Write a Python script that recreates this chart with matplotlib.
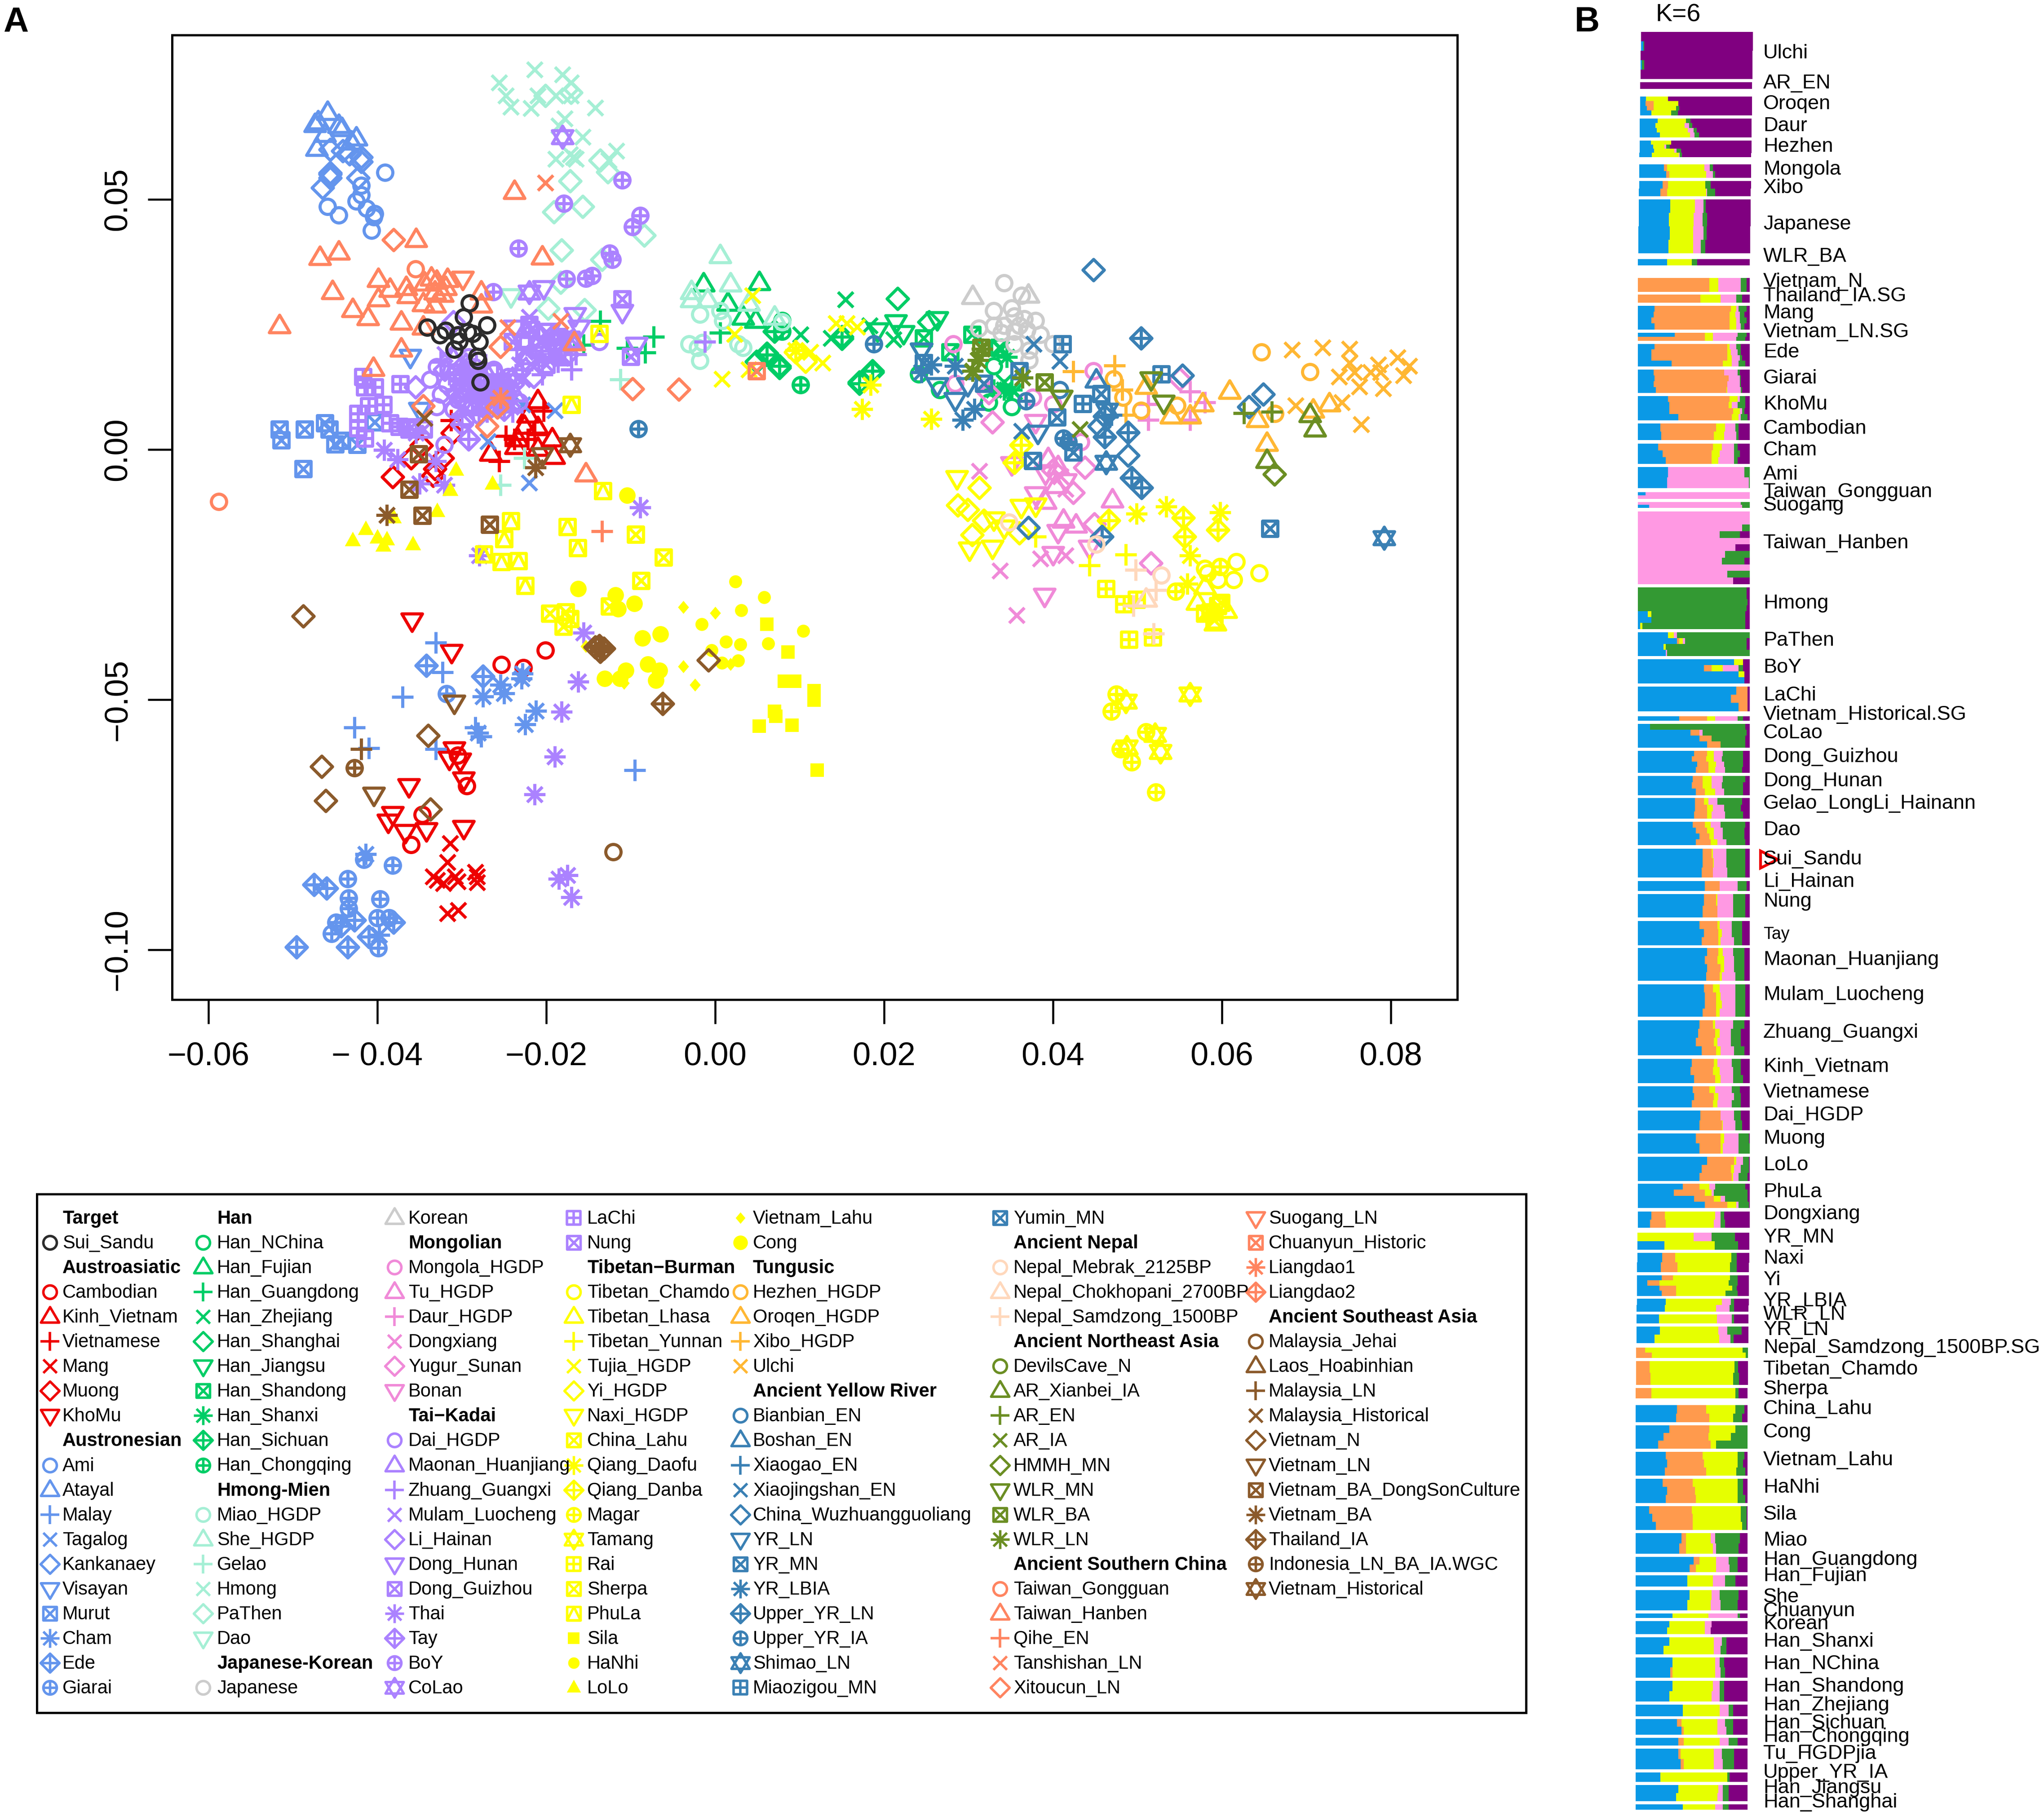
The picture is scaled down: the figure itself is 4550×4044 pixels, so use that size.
import numpy as np
import matplotlib
matplotlib.use("Agg")
import matplotlib.pyplot as plt
from matplotlib.path import Path
from matplotlib.patches import Rectangle

plt.rcParams['font.family'] = ['Liberation Sans', 'DejaVu Sans']

# ---------- panel A, PC1 / PC2
sui_sandu = [(-.0291,.0293),(-.0298,.0265),(-.0270,.0249),(-.0341,.0244),(-.0319,.0238),(-.0326,.0229),(-.0305,.0229),(-.0293,.0235),(-.0287,.0232),(-.0303,.0216),(-.0279,.0215),(-.0309,.0200),(-.0282,.0186),(-.0281,.0178),(-.0278,.0135)]
cambodian = [(-.0201,-.0401),(-.0253,-.0430),(-.0227,-.0436),(-.0305,-.0611),(-.0294,-.0672),(-.0347,-.0730),(-.0360,-.0790)]
kinh = [(-.0210,.0097),(-.0222,.0068),(-.0226,.0046),(-.0210,.0043),(-.0193,.0021),(-.0191,-.0014),(-.0234,.0021),(-.0236,.0005),(-.0266,-.0008),(-.0210,.0002)]
vietnamese = [(-.0248,.0027),(-.0256,-.0023),(-.0238,.0021),(-.0222,.0021),(-.0203,.0077),(-.0214,.0033),(-.0313,.0058)]
mang = [(-.0314,-.0787),(-.0317,-.0825),(-.0334,-.0854),(-.0329,-.0861),(-.0322,-.0867),(-.0308,-.0854),(-.0305,-.0864),(-.0284,-.0845),(-.0282,-.0854),(-.0282,-.0865),(-.0317,-.0927),(-.0304,-.0921)]
muong = [(-.0382,-.0055),(-.0311,.0033),(-.0334,-.0052),(-.0348,.0008),(-.0360,-.0017),(-.0323,-.0017),(-.0332,-.0039)]
khomu = [(-.0359,-.0341),(-.0312,-.0404),(-.0309,-.0599),(-.0315,-.0618),(-.0302,-.0621),(-.0298,-.0659),(-.0363,-.0672),(-.0382,-.0728),(-.0387,-.0743),(-.0367,-.0764),(-.0342,-.0760),(-.0298,-.0756)]
ami = [(-.0391,.0554),(-.0419,.0528),(-.0419,.0509),(-.0425,.0496),(-.0459,.0486),(-.0446,.0469),(-.0413,.0482),(-.0403,.0471),(-.0404,.0465),(-.0407,.0438)]
atayal = [(-.0459,.0673),(-.0470,.0654),(-.0474,.0649),(-.0446,.0647),(-.0425,.0622),(-.0462,.0629),(-.0472,.0601),(-.0431,.0614),(-.0442,.0641)]
malay = [(-.0331,-.0386),(-.0323,-.0445),(-.0370,-.0495),(-.0427,-.0556),(-.0410,-.0597),(-.0331,-.0599),(-.0284,-.0556),(-.0277,-.0574),(-.0095,-.0641)]
tagalog = [(-.0228,.0090),(-.0190,.0078),(-.0269,.0016),(-.0220,-.0066)]
kankanaey = [(-.0456,.0600),(-.0441,.0597),(-.0433,.0591),(-.0419,.0584),(-.0419,.0575),(-.0456,.0553),(-.0456,.0550),(-.0456,.0543),(-.0465,.0523),(-.0423,.0543)]
visayan = [(-.0361,.0186),(-.0350,.0080)]
murut = [(-.0516,.0040),(-.0514,.0019),(-.0486,.0040),(-.0462,.0053),(-.0457,.0040),(-.0450,.0011),(-.0443,.0018),(-.0424,.0010),(-.0403,.0055),(-.0488,-.0039)]
cham = [(-.0228,-.0448),(-.0229,-.0458),(-.0254,-.0470),(-.0250,-.0487),(-.0275,-.0494),(-.0212,-.0522),(-.0225,-.0549),(-.0281,-.0566),(-.0414,-.0809),(-.0398,-.0970)]
ede = [(-.0342,-.0432),(-.0275,-.0453),(-.0475,-.0870),(-.0460,-.0877),(-.0427,-.0941),(-.0381,-.0945),(-.0410,-.0974),(-.0435,-.0995),(-.0496,-.0995),(-.0443,-.0952)]
giarai = [(-.0318,-.0488),(-.0416,-.0820),(-.0382,-.0831),(-.0435,-.0858),(-.0434,-.0897),(-.0397,-.0899),(-.0434,-.0917),(-.0400,-.0936),(-.0449,-.0945),(-.0454,-.0968),(-.0399,-.0996),(-.0386,-.0936)]
han_nchina = [(.0241,.0151),(.0266,.0119),(.0324,.0094),(.0351,.0085),(.0079,.0258),(.0330,.0167)]
han_fujian = [(-.0014,.0330),(.0052,.0333),(.0015,.0292),(.0033,.0264),(.0048,.0258)]
han_guangdong = [(-.0136,.0257),(-.0073,.0225),(-.0104,.0203),(-.0083,.0194),(-.0156,.0209),(.0006,.0233)]
han_zhejiang = [(.0154,.0300),(.0101,.0230),(.0137,.0223),(.0211,.0220),(.0183,.0248),(.0339,.0201),(.0354,.0116),(.0342,.0135)]
han_shanghai = [(.0216,.0302),(.0253,.0255),(.0150,.0222),(.0061,.0192),(.0049,.0176),(.0076,.0163),(.0171,.0135),(.0186,.0154)]
han_jiangsu = [(.0214,.0255),(.0263,.0261),(.0192,.0239),(.0223,.0233),(.0244,.0198)]
han_shandong = [(.0247,.0223),(.0304,.0230),(.0278,.0195),(.0336,.0204)]
han_shanxi = [(.0345,.0185),(.0342,.0119),(.0351,.0119),(.0330,.0119)]
han_sichuan = [(.0061,.0189),(.0076,.0167),(.0186,.0157),(.0171,.0132),(.0150,.0225),(.0070,.0236)]
han_chongqing = [(.0101,.0129),(.0079,.0236)]
miao = [(-.0018,.0270),(.0006,.0277),(.0009,.0258),(.0079,.0255),(-.0031,.0211),(-.0015,.0214),(.0027,.0211),(.0033,.0204),(-.0018,.0178),(-.0021,.0204)]
she = [(.0006,.0387),(-.0028,.0315),(.0018,.0330),(-.0028,.0299),(-.0009,.0299),(.0040,.0292),(.0070,.0264)]
gelao = [(-.0112,.0140),(-.0254,-.0071),(-.0226,-.0017)]
hmong = [(-.0214,.0759),(-.0181,.0750),(-.0256,.0733),(-.0171,.0733),(-.0248,.0707),(-.0210,.0707),(-.0189,.0707),(-.0171,.0707),(-.0242,.0685),(-.0218,.0682),(-.0142,.0683),(-.0178,.0662),(-.0185,.0647),(-.0157,.0625),(-.0189,.0581),(-.0165,.0581),(-.0117,.0597),(-.0126,.0578),(-.0172,.0590),(-.0168,.0584)]
pathen = [(-.0201,.0707),(-.0171,.0714),(-.0136,.0578),(-.0127,.0555),(-.0172,.0537),(-.0191,.0475),(-.0157,.0486),(-.0084,.0428),(-.0182,.0399),(-.0134,.0380),(-.0183,.0334),(-.0198,.0282),(-.0155,.0279)]
dao = [(-.0242,.0307)]
japanese = [(.0342,.0333),(.0330,.0277),(.0351,.0283),(.0363,.0308),(.0330,.0248),(.0342,.0248),(.0354,.0267),(.0366,.0261),(.0379,.0258),(.0339,.0233),(.0354,.0236),(.0369,.0239),(.0385,.0230),(.0312,.0242),(.0354,.0211),(.0400,.0211),(.0372,.0179),(.0372,.0198),(.0360,.0248)]
korean = [(.0305,.0305),(.0371,.0308)]
mongola = [(.0448,.0157),(.0376,.0104),(.0400,.0091),(.0282,.0211),(.0284,.0132),(.0433,.0015)]
tu = [(.0394,-.0019),(.0406,-.0035),(.0403,-.0073),(.0391,-.0104),(.0412,-.0142),(.0427,-.0152),(.0470,-.0101)]
daur = [(.0562,.0116),(.0513,.0091),(.0513,.0059),(.0580,.0094),(.0562,.0059)]
dongxiang = [(.0313,-.0043),(.0385,-.0218),(.0415,-.0212),(.0337,-.0242),(.0357,-.0331),(.0409,-.0054),(.0415,-.0079)]
yugur = [(.0328,.0055),(.0438,-.0036),(.0424,-.0086),(.0516,-.0227),(.0449,-.0149),(.0324,.0113),(.0550,.0141),(.0400,-.0041)]
bonan = [(.0379,.0056),(.0351,-.0029),(.0391,-.0048),(.0379,-.0089),(.0406,-.0164),(.0400,-.0208),(.0443,-.0196),(.0390,-.0292),(.0415,-.0063)]
dai = [(-.0330,.0165),(-.0318,.0130),(-.0305,.0100),(-.0295,.0135),(-.0285,.0165),(-.0275,.0095),(-.0265,.0135),(-.0255,.0105),(-.0245,.0145),(-.0310,.0080),(-.0325,.0110),(-.0330,.0085),(-.0295,.0060),(-.0137,.0215),(-.0321,.0010),(-.0308,.0155),(-.0292,.0185),(-.0278,.0140),(-.0262,.0160),(-.0248,.0120),(-.0300,.0118),(-.0288,.0092),(-.0270,.0078),(-.0232,.0095),(-.0338,.0140)]
maonan = [(-.0310,.0180),(-.0300,.0150),(-.0290,.0130),(-.0280,.0115),(-.0270,.0150),(-.0260,.0100),(-.0250,.0130),(-.0225,.0215),(-.0210,.0210),(-.0200,.0195),(-.0190,.0225),(-.0180,.0210),(-.0170,.0215),(-.0300,.0110),(-.0285,.0085),(-.0295,.0170),(-.0275,.0130),(-.0258,.0118),(-.0238,.0110),(-.0222,.0185)]
zhuang = [(-.0325,.0175),(-.0315,.0150),(-.0307,.0120),(-.0295,.0160),(-.0288,.0100),(-.0280,.0135),(-.0272,.0170),(-.0265,.0115),(-.0258,.0150),(-.0250,.0085),(-.0243,.0125),(-.0235,.0200),(-.0228,.0160),(-.0220,.0225),(-.0212,.0190),(-.0205,.0150),(-.0195,.0215),(-.0186,.0175),(-.0178,.0200),(-.0170,.0160),(-.0165,.0190),(-.0300,.0070),(-.0270,.0075),(-.0240,.0075),(-.0012,.0215),(-.0302,.0140),(-.0284,.0120),(-.0268,.0105),(-.0252,.0138),(-.0236,.0150),(-.0218,.0205)]
mulam = [(-.0320,.0190),(-.0312,.0165),(-.0305,.0140),(-.0298,.0175),(-.0290,.0120),(-.0284,.0150),(-.0276,.0105),(-.0268,.0135),(-.0262,.0090),(-.0255,.0120),(-.0248,.0150),(-.0240,.0100),(-.0232,.0170),(-.0225,.0195),(-.0215,.0165),(-.0208,.0215),(-.0198,.0180),(-.0190,.0205),(-.0312,.0100),(-.0300,.0085),(-.0220,.0265),(-.0295,.0105),(-.0280,.0085),(-.0274,.0155),(-.0258,.0130),(-.0242,.0085),(-.0228,.0140)]
li_hainan = [(-.0320,.0160),(-.0300,.0125),(-.0285,.0105),(-.0270,.0125),(-.0255,.0095),(-.0240,.0130),(-.0225,.0180),(-.0205,.0195),(-.0190,.0215),(-.0175,.0190),(-.0215,.0145),(-.0310,.0255),(-.0355,.0125)]
dong_hunan = [(-.0203,.0323),(-.0166,.0269),(-.0161,.0244),(-.0110,.0276),(-.0093,.0210),(-.0238,.0244),(-.0197,.0238),(-.0177,.0222)]
dong_guizhou = [(-.0240,.0215),(-.0218,.0240),(-.0200,.0235),(-.0185,.0225),(-.0170,.0220),(-.0180,.0185),(-.0200,.0170),(-.0290,.0155),(-.0275,.0110),(-.0260,.0130),(-.0250,.0105),(-.0360,.0045),(-.0345,.0040)]
thai = [(-.0392,-.0001),(-.0376,-.0020),(-.0331,-.0023),(-.0350,-.0068),(-.0321,-.0071),(-.0089,-.0116),(-.0354,.0033),(-.0279,-.0212),(-.0156,-.0366),(-.0162,-.0464),(-.0182,-.0524),(-.0190,-.0614),(-.0214,-.0689),(-.0185,-.0858),(-.0175,-.0851),(-.0170,-.0895)]
tay = [(-.0292,.0021),(-.0300,.0050),(-.0250,.0080),(-.0280,.0070)]
boy = [(-.0110,.0539),(-.0179,.0492),(-.0089,.0468),(-.0098,.0445),(-.0233,.0402),(-.0125,.0392),(-.0122,.0380),(-.0176,.0341),(-.0146,.0347),(-.0153,.0342),(-.0263,.0315)]
colao = [(-.0181,.0625),(-.0220,.0314)]
lachi = [(-.0417,.0145),(-.0403,.0125),(-.0415,.0125),(-.0373,.0131),(-.0393,.0090),(-.0410,.0087),(-.0423,.0072),(-.0423,.0043),(-.0415,.0022),(-.0385,.0053),(-.0374,.0046),(-.0362,.0040)]
nung = [(-.0110,.0301),(-.0100,.0186),(-.0220,.0250)]
chamdo = [(.0580,-.0238),(.0598,-.0234),(.0617,-.0224),(.0644,-.0247),(.0614,-.0260),(.0595,-.0260),(.0583,-.0247)]
lhasa = [(.0571,-.0306),(.0592,-.0347),(.0605,-.0322),(.0580,-.0275)]
tibetan_yunnan = [(.0486,-.0210),(.0443,-.0232),(.0379,-.0174)]
tujia = [(.0044,.0308),(.0023,.0231),(.0008,.0141),(.0040,.0160),(.0143,.0252),(.0156,.0252),(.0168,.0245),(.0113,.0195),(.0127,.0173)]
yi = [(.0095,.0195),(.0107,.0176),(.0313,-.0076),(.0287,-.0111),(.0299,-.0120),(.0318,-.0142),(.0304,-.0171),(.0360,-.0167)]
naxi = [(.0286,-.0057),(.0362,-.0114),(.0379,-.0111),(.0330,-.0139),(.0301,-.0199),(.0328,-.0196),(.0342,-.0155)]
china_lahu = [(-.0094,-.0170),(-.0061,-.0215),(-.0088,-.0262),(-.0196,-.0328),(-.0177,-.0325),(-.0172,-.0338),(-.0180,-.0354),(-.0125,-.0313)]
daofu = [(.0184,.0129),(.0174,.0081),(.0256,.0061),(.0095,.0198),(.0499,-.0128),(.0534,-.0114),(.0598,-.0126),(.0562,-.0212),(.0559,-.0268)]
danba = [(.0362,.0009),(.0354,-.0026),(.0466,-.0142),(.0554,-.0136),(.0556,-.0174),(.0595,-.0161)]
magar = [(.0545,-.0284),(.0598,-.0234),(.0475,-.0489),(.0469,-.0523),(.0480,-.0599),(.0493,-.0625),(.0522,-.0685),(.0510,-.0565)]
tamang = [(.0486,-.0504),(.0562,-.0489),(.0527,-.0604),(.0521,-.0570),(.0487,-.0595)]
rai = [(.0463,-.0278),(.0484,-.0309),(.0499,-.0300),(.0490,-.0380),(.0518,-.0375)]
sherpa = [(.0586,-.0325),(.0595,-.0312),(.0580,-.0328),(.0599,-.0306),(.0591,-.0341)]
phula = [(-.0242,-.0143),(-.0250,-.0179),(-.0274,-.0209),(-.0253,-.0224),(-.0233,-.0223),(-.0225,-.0272),(-.0175,-.0154),(-.0163,-.0197),(-.0170,.0090),(-.0133,-.0083),(-.0137,.0232)]
sila = [(.0061,-.0349),(.0086,-.0405),(.0082,-.0463),(.0094,-.0463),(.0117,-.0482),(.0117,-.0501),(.0070,-.0523),(.0072,-.0533),(.0052,-.0553),(.0091,-.0551),(.0121,-.0641)]
hanhi = [(.0024,-.0264),(.0058,-.0295),(.0031,-.0321),(-.0016,-.0349),(.0013,-.0384),(.0030,-.0390),(.0063,-.0388),(.0027,-.0422),(.0008,-.0426),(-.0004,-.0401),(.0104,-.0363)]
lolo = [(-.0429,-.0182),(-.0414,-.0160),(-.0400,-.0177),(-.0389,-.0180),(-.0393,-.0193),(-.0358,-.0190),(-.0329,-.0124),(-.0381,-.0136),(-.0307,-.0041),(-.0314,-.0082),(-.0264,-.0069)]
vietnam_lahu = [(-.0038,-.0315),(.0000,-.0327),(-.0038,-.0434),(-.0024,-.0470),(.0018,-.0429),(-.0108,-.0467),(-.0153,-.0393)]
cong = [(-.0162,-.0278),(-.0118,-.0291),(-.0115,-.0319),(-.0096,-.0308),(-.0086,-.0377),(-.0065,-.0369),(-.0131,-.0458),(-.0113,-.0458),(-.0106,-.0442),(-.0080,-.0429),(-.0066,-.0442),(-.0070,-.0461),(-.0104,-.0092)]
hezhen = [(.0647,.0195),(.0704,.0155),(.0472,.0141),(.0483,.0104),(.0504,.0078),(.0547,.0088),(.0663,.0072)]
oroqen = [(.0609,.0116),(.0510,.0126),(.0577,.0091),(.0540,.0066),(.0562,.0066),(.0642,.0059),(.0708,.0078),(.0727,.0091),(.0653,.0012)]
xibo = [(.0424,.0156),(.0473,.0168),(.0482,.0119),(.0486,.0069)]
ulchi = [(.0683,.0199),(.0719,.0204),(.0751,.0201),(.0808,.0184),(.0822,.0167),(.0751,.0173),(.0739,.0145),(.0757,.0154),(.0785,.0170),(.0776,.0154),(.0788,.0154),(.0815,.0148),(.0763,.0126),(.0791,.0122),(.0687,.0088),(.0742,.0094),(.0765,.0050)]
bianbian = [(.0408,.0119)]
boshan = [(.0451,.0138)]
xiaogao = [(.0469,.0069)]
xiaojingshan = [(.0377,.0211),(.0408,.0177),(.0363,.0037)]
wuzhuang = [(.0448,.0359),(.0489,-.0012),(.0371,-.0156),(.0553,.0148),(.0649,.0110),(.0632,.0085),(.0455,.0047)]
yr_ln = [(.0284,.0100),(.0382,.0034),(.0244,.0198),(.0263,.0129),(.0299,.0129)]
yr_mn = [(.0247,.0173),(.0405,.0065),(.0376,-.0022),(.0424,-.0005),(.0457,.0111),(.0318,.0132),(.0360,.0157)]
yr_lbia = [(.0244,.0154),(.0256,.0170),(.0284,.0167),(.0293,.0059),(.0307,.0081)]
upper_yr_ln = [(.0504,.0223),(.0489,.0034),(.0461,.0025),(.0493,-.0057),(.0505,-.0076),(.0458,-.0174),(.0461,.0066)]
upper_yr_ia = [(.0188,.0211),(.0368,.0097),(.0412,.0022),(.0418,.0015),(-.0091,.0041)]
shimao = [(.0463,-.0026),(.0464,.0078),(.0792,-.0177)]
miaozigou = [(.0411,.0211),(.0435,.0092),(.0528,.0151)]
yumin = [(.0657,-.0158)]
mebrak = [(.0348,-.0145),(.0451,-.0189),(.0528,-.0251)]
chokhopani = [(.0510,-.0300)]
samdzong = [(.0498,-.0241),(.0522,-.0281),(.0495,-.0312),(.0519,-.0368)]
xianbei = [(.0704,.0069),(.0710,.0040),(.0653,-.0022)]
ar_en = [(.0626,.0073),(.0659,.0075)]
ar_ia = [(.0305,.0154),(.0432,.0040)]
hmmh = [(.0662,-.0049)]
wlr_mn = [(.0516,.0141),(.0410,.0104),(.0531,.0094)]
wlr_ba = [(.0390,.0135),(.0315,.0204)]
wlr_ln = [(.0316,.0201),(.0305,.0157),(.0364,.0144),(.0311,.0179)]
gongguan = [(-.0355,.0361),(-.0588,-.0104)]
hanben = [(-.0354,.0419),(-.0446,.0394),(-.0468,.0383),(-.0399,.0339),(-.0385,.0320),(-.0453,.0315),(-.0399,.0301),(-.0366,.0323),(-.0364,.0307),(-.0336,.0342),(-.0344,.0332),(-.0330,.0336),(-.0317,.0339),(-.0319,.0323),(-.0332,.0314),(-.0323,.0310),(-.0346,.0291),(-.0332,.0288),(-.0277,.0314),(-.0277,.0288),(-.0429,.0279),(-.0411,.0263),(-.0372,.0254),(-.0516,.0247),(-.0346,.0244),(-.0372,.0200),(-.0405,.0162),(-.0238,.0515),(-.0205,.0384),(-.0167,.0213),(-.0153,-.0049)]
qihe = [(-.0134,-.0163)]
tanshishan = [(-.0201,.0533),(-.0183,.0257),(-.0246,.0244)]
xitoucun = [(-.0381,.0419),(-.0254,.0206),(-.0258,.0084),(-.0270,.0047),(-.0098,.0121),(-.0043,.0120),(-.0346,.0087)]
suogang = [(-.0299,.0342)]
chuanyun = [(.0049,.0157)]
liangdao1 = [(-.0254,.0103)]
jehai = [(-.0121,-.0804)]
malaysia_ln = [(-.0419,-.0599)]
malaysia_hist = [(-.0344,.0063)]
vietnam_n = [(-.0488,-.0333),(-.0340,-.0572),(-.0466,-.0634),(-.0461,-.0702),(-.0337,-.0719),(-.0008,-.0421)]
vietnam_ln = [(-.0205,-.0011),(-.0309,-.0505),(-.0404,-.0689)]
dongson = [(-.0351,-.0009),(-.0362,-.0080),(-.0347,-.0132),(-.0267,-.0150)]
vietnam_ba = [(-.0389,-.0131),(-.0213,-.0036)]
thailand_ia = [(-.0062,-.0508),(-.0142,-.0395),(-.0137,-.0392),(-.0132,-.0398),(-.0136,-.0404)]
indonesia = [(-.0427,-.0636)]
vietnam_hist = [(-.0172,.0009)]

# group, colour, members in legend order
families = [
    ("Target", "#2b2b2b", ["Sui_Sandu"]),
    ("Austroasiatic", "#ee0000", ["Cambodian", "Kinh_Vietnam", "Vietnamese", "Mang", "Muong", "KhoMu"]),
    ("Austronesian", "#6495ed", ["Ami", "Atayal", "Malay", "Tagalog", "Kankanaey", "Visayan", "Murut", "Cham", "Ede", "Giarai"]),
    ("Han", "#00cd66", ["Han_NChina", "Han_Fujian", "Han_Guangdong", "Han_Zhejiang", "Han_Shanghai", "Han_Jiangsu", "Han_Shandong", "Han_Shanxi", "Han_Sichuan", "Han_Chongqing"]),
    ("Hmong-Mien", "#a5efd5", ["Miao_HGDP", "She_HGDP", "Gelao", "Hmong", "PaThen", "Dao"]),
    ("Japanese-Korean", "#cccccc", ["Japanese", "Korean"]),
    ("Mongolian", "#f08ad8", ["Mongola_HGDP", "Tu_HGDP", "Daur_HGDP", "Dongxiang", "Yugur_Sunan", "Bonan"]),
    ("Tai\u2212Kadai", "#ab82ff", ["Dai_HGDP", "Maonan_Huanjiang", "Zhuang_Guangxi", "Mulam_Luocheng", "Li_Hainan", "Dong_Hunan", "Dong_Guizhou", "Thai", "Tay", "BoY", "CoLao", "LaChi", "Nung"]),
    ("Tibetan\u2212Burman", "#ffff00", ["Tibetan_Chamdo", "Tibetan_Lhasa", "Tibetan_Yunnan", "Tujia_HGDP", "Yi_HGDP", "Naxi_HGDP", "China_Lahu", "Qiang_Daofu", "Qiang_Danba", "Magar", "Tamang", "Rai", "Sherpa", "PhuLa", "Sila", "HaNhi", "LoLo", "Vietnam_Lahu", "Cong"]),
    ("Tungusic", "#ffb733", ["Hezhen_HGDP", "Oroqen_HGDP", "Xibo_HGDP", "Ulchi"]),
    ("Ancient Yellow River", "#3a80b4", ["Bianbian_EN", "Boshan_EN", "Xiaogao_EN", "Xiaojingshan_EN", "China_Wuzhuangguoliang", "YR_LN", "YR_MN", "YR_LBIA", "Upper_YR_LN", "Upper_YR_IA", "Shimao_LN", "Miaozigou_MN", "Yumin_MN"]),
    ("Ancient Nepal", "#ffd8bc", ["Nepal_Mebrak_2125BP", "Nepal_Chokhopani_2700BP", "Nepal_Samdzong_1500BP"]),
    ("Ancient Northeast Asia", "#6b8e23", ["DevilsCave_N", "AR_Xianbei_IA", "AR_EN", "AR_IA", "HMMH_MN", "WLR_MN", "WLR_BA", "WLR_LN"]),
    ("Ancient Southern China", "#ff8460", ["Taiwan_Gongguan", "Taiwan_Hanben", "Qihe_EN", "Tanshishan_LN", "Xitoucun_LN", "Suogang_LN", "Chuanyun_Historic", "Liangdao1", "Liangdao2"]),
    ("Ancient Southeast Asia", "#8b5a2b", ["Malaysia_Jehai", "Laos_Hoabinhian", "Malaysia_LN", "Malaysia_Historical", "Vietnam_N", "Vietnam_LN", "Vietnam_BA_DongSonCulture", "Vietnam_BA", "Thailand_IA", "Indonesia_LN_BA_IA.WGC", "Vietnam_Historical"]),
]

pca = {"Sui_Sandu": sui_sandu, "Cambodian": cambodian, "Kinh_Vietnam": kinh, "Vietnamese": vietnamese, "Mang": mang, "Muong": muong, "KhoMu": khomu,
       "Ami": ami, "Atayal": atayal, "Malay": malay, "Tagalog": tagalog, "Kankanaey": kankanaey, "Visayan": visayan, "Murut": murut, "Cham": cham, "Ede": ede, "Giarai": giarai,
       "Han_NChina": han_nchina, "Han_Fujian": han_fujian, "Han_Guangdong": han_guangdong, "Han_Zhejiang": han_zhejiang, "Han_Shanghai": han_shanghai, "Han_Jiangsu": han_jiangsu, "Han_Shandong": han_shandong, "Han_Shanxi": han_shanxi, "Han_Sichuan": han_sichuan, "Han_Chongqing": han_chongqing,
       "Miao_HGDP": miao, "She_HGDP": she, "Gelao": gelao, "Hmong": hmong, "PaThen": pathen, "Dao": dao, "Japanese": japanese, "Korean": korean,
       "Mongola_HGDP": mongola, "Tu_HGDP": tu, "Daur_HGDP": daur, "Dongxiang": dongxiang, "Yugur_Sunan": yugur, "Bonan": bonan,
       "Dai_HGDP": dai, "Maonan_Huanjiang": maonan, "Zhuang_Guangxi": zhuang, "Mulam_Luocheng": mulam, "Li_Hainan": li_hainan, "Dong_Hunan": dong_hunan, "Dong_Guizhou": dong_guizhou, "Thai": thai, "Tay": tay, "BoY": boy, "CoLao": colao, "LaChi": lachi, "Nung": nung,
       "Tibetan_Chamdo": chamdo, "Tibetan_Lhasa": lhasa, "Tibetan_Yunnan": tibetan_yunnan, "Tujia_HGDP": tujia, "Yi_HGDP": yi, "Naxi_HGDP": naxi, "China_Lahu": china_lahu, "Qiang_Daofu": daofu, "Qiang_Danba": danba, "Magar": magar, "Tamang": tamang, "Rai": rai, "Sherpa": sherpa, "PhuLa": phula, "Sila": sila, "HaNhi": hanhi, "LoLo": lolo, "Vietnam_Lahu": vietnam_lahu, "Cong": cong,
       "Hezhen_HGDP": hezhen, "Oroqen_HGDP": oroqen, "Xibo_HGDP": xibo, "Ulchi": ulchi,
       "Bianbian_EN": bianbian, "Boshan_EN": boshan, "Xiaogao_EN": xiaogao, "Xiaojingshan_EN": xiaojingshan, "China_Wuzhuangguoliang": wuzhuang, "YR_LN": yr_ln, "YR_MN": yr_mn, "YR_LBIA": yr_lbia, "Upper_YR_LN": upper_yr_ln, "Upper_YR_IA": upper_yr_ia, "Shimao_LN": shimao, "Miaozigou_MN": miaozigou, "Yumin_MN": yumin,
       "Nepal_Mebrak_2125BP": mebrak, "Nepal_Chokhopani_2700BP": chokhopani, "Nepal_Samdzong_1500BP": samdzong,
       "AR_Xianbei_IA": xianbei, "AR_EN": ar_en, "AR_IA": ar_ia, "HMMH_MN": hmmh, "WLR_MN": wlr_mn, "WLR_BA": wlr_ba, "WLR_LN": wlr_ln,
       "Taiwan_Gongguan": gongguan, "Taiwan_Hanben": hanben, "Qihe_EN": qihe, "Tanshishan_LN": tanshishan, "Xitoucun_LN": xitoucun, "Suogang_LN": suogang, "Chuanyun_Historic": chuanyun, "Liangdao1": liangdao1,
       "Malaysia_Jehai": jehai, "Malaysia_LN": malaysia_ln, "Malaysia_Historical": malaysia_hist, "Vietnam_N": vietnam_n, "Vietnam_LN": vietnam_ln, "Vietnam_BA_DongSonCulture": dongson, "Vietnam_BA": vietnam_ba, "Thailand_IA": thailand_ia, "Indonesia_LN_BA_IA.WGC": indonesia, "Vietnam_Historical": vietnam_hist}

# ---------- panel B, ancestry shares per population: blue, orange, yellow, pink, green, purple
k_colors = ["#0a99e6", "#ff9a4d", "#e6ff00", "#ff99e3", "#339933", "#800080"]
q_north = [
    ("Ulchi", [[0,0,0,0,0,100],[2,0,0,0,1,97],[0,0,0,0,0,100],[1,0,0,0,2,97],[0,0,0,0,0,100]]),
    ("AR_EN", [[0,0,0,0,0,100]]),
    ("Oroqen", [[5,0,20,0,0,75],[5,7,22,0,0,66],[6,6,20,0,3,65],[10,0,18,0,6,66]]),
    ("Daur", [[16,0,25,0,4,55],[14,0,26,4,3,53],[15,0,28,5,3,49],[18,0,27,4,4,47]]),
    ("Hezhen", [[10,0,18,0,0,72],[12,0,10,2,3,73],[13,0,18,2,4,63],[11,0,24,1,2,62]]),
    ("Mongola", [[22,3,33,5,3,34],[24,3,33,6,2,32]]),
    ("Xibo", [[21,5,33,0,5,36],[19,6,35,1,7,32]]),
    ("Japanese", [[28,0,22,8,2,40],[27,0,22,8,4,39],[28,0,21,9,3,39],[27,0,22,7,4,40]]),
    ("WLR_BA", [[26,0,22,0,5,47]]),
]
q_se = [
    ("Vietnam_N", [[0,64,8,20,5,3]]),
    ("Thailand_IA.SG", [[0,56,18,14,5,7]]),
    ("Mang", [[15,68,5,2,7,3],[14,68,5,4,4,5],[12,70,6,3,6,3],[15,67,6,4,3,5]]),
    ("Vietnam_LN.SG", [[33,27,7,22,8,3],[0,60,7,21,8,4]]),
    ("Ede", [[15,65,2,6,4,8],[12,68,3,6,3,8],[12,68,4,7,2,7],[30,46,8,6,6,4]]),
    ("Giarai", [[14,63,0,12,2,9],[15,66,0,10,1,8],[14,66,0,11,1,8],[16,63,1,12,1,7]]),
    ("KhoMu", [[27,55,7,2,5,4],[28,53,3,5,7,4],[28,57,6,2,2,5],[36,48,6,2,6,2]]),
    ("Cambodian", [[20,50,8,9,3,10],[21,47,9,11,2,10]]),
    ("Cham", [[18,49,8,11,3,11],[22,44,7,13,5,9],[25,41,6,14,3,11]]),
    ("Ami", [[27,0,0,68,5,0],[26,0,0,73,1,0]]),
    ("Taiwan_Gongguan", [[7,0,0,93,0,0],[0,0,0,100,0,0]]),
    ("Suogang", [[0,0,0,92,8,0],[10,0,0,83,7,0]]),
    ("Taiwan_Hanben", [[0,0,0,100,0,0],[0,0,0,100,0,0],[0,0,0,93,7,0],[0,0,0,73,18,9],[0,0,0,100,0,0],[0,0,0,87,0,13],[0,0,0,78,22,0],[0,0,0,75,20,5],[0,0,0,100,0,0],[0,0,0,80,20,0],[0,0,0,85,0,15]]),
    ("Hmong", [[0,0,0,0,97,3],[0,0,0,0,97,3],[0,0,0,0,98,2],[0,0,0,0,97,3],[9,0,3,0,84,4],[12,0,0,0,84,4],[2,0,2,0,92,4]]),
    ("PaThen", [[27,0,5,3,65,0],[35,2,3,2,55,3],[23,0,2,0,72,3],[25,0,0,1,74,0]]),
    ("BoY", [[86,0,8,0,0,6],[59,7,10,14,4,6],[90,0,5,0,0,5],[95,0,0,0,0,5]]),
    ("LaChi", [[88,10,0,0,0,2],[83,15,0,0,0,2],[90,8,0,0,0,2]]),
    ("Vietnam_Historical.SG", [[37,25,7,20,5,6]]),
    ("CoLao", [[11,0,0,0,85,4],[47,8,0,3,39,3],[55,11,0,0,30,4],[62,12,0,0,22,4]]),
]
q_kadai = [
    ("Dong_Guizhou", [[50,12,6,8,18,6],[48,13,7,7,19,6],[53,10,7,7,17,6],[52,11,6,9,15,7]]),
    ("Dong_Hunan", [[49,9,8,10,20,4],[48,10,8,9,19,6],[52,8,9,8,17,6]]),
    ("Gelao_LongLi_Hainann", [[51,8,4,8,22,7],[51,11,5,10,15,8],[50,12,4,12,16,6]]),
    ("Dao", [[49,11,5,9,22,4],[52,10,6,8,19,5],[55,9,4,8,19,5],[52,13,6,8,17,4]]),
    ("Sui_Sandu", [[58,8,1,12,17,4],[58,9,1,11,17,4],[57,10,0,13,16,4]]),
    ("Li_Hainan", [[60,13,0,16,8,3]]),
    ("Nung", [[59,11,1,14,11,4],[58,13,0,14,11,4]]),
    ("Tay", [[55,16,2,11,9,7],[59,13,3,9,9,7],[57,15,2,12,7,7]]),
    ("Maonan_Huanjiang", [[62,10,4,9,10,5],[60,11,6,9,9,5],[62,12,3,9,9,5],[61,12,2,12,8,5]]),
    ("Mulam_Luocheng", [[59,8,6,14,9,4],[60,10,4,13,9,4],[60,10,5,12,9,4],[58,12,3,14,9,4]]),
    ("Zhuang_Guangxi", [[55,12,2,16,10,5],[54,15,4,10,9,8],[52,16,3,12,9,8],[57,13,4,12,9,5]]),
    ("Kinh_Vietnam", [[48,20,3,13,8,8],[47,20,6,12,7,8],[50,19,5,11,9,6]]),
    ("Vietnamese", [[49,15,5,15,7,9],[50,18,4,14,6,8],[48,19,4,13,8,8]]),
    ("Dai_HGDP", [[56,18,0,12,6,8],[55,20,1,11,6,7]]),
    ("Muong", [[52,22,3,13,9,1],[55,19,2,14,10,0]]),
    ("LoLo", [[62,24,2,6,5,1],[57,26,3,6,7,1],[55,29,1,5,8,2]]),
    ("PhuLa", [[40,15,9,5,27,4],[32,28,6,2,30,2],[50,18,6,4,20,2],[60,20,8,2,9,1]]),
]
q_tibetan = [
    ("Dongxiang", [[12,12,45,5,3,23],[11,14,43,6,4,22]]),
    ("YR_MN", [[0,0,50,16,21,13],[24,0,45,0,21,10]]),
    ("Naxi", [[22,12,50,0,5,11],[21,15,47,0,6,11]]),
    ("Yi", [[22,10,51,0,7,10],[9,11,62,0,8,10],[20,15,50,0,4,11],[22,13,44,0,11,10]]),
    ("YR_LBIA", [[26,0,50,8,3,13],[25,0,46,12,4,13]]),
    ("WLR_LN", [[20,0,52,13,2,13]]),
    ("YR_LN", [[21,0,52,8,13,6],[16,0,58,10,3,13]]),
    ("Nepal_Samdzong_1500BP.SG", [[0,8,87,0,5,0],[0,14,84,0,2,0]]),
    ("Tibetan_Chamdo", [[0,12,76,0,3,9],[0,13,74,0,5,8]]),
    ("Sherpa", [[0,14,75,0,3,8]]),
    ("China_Lahu", [[37,26,26,0,8,3],[36,30,21,0,8,5]]),
    ("Cong", [[30,36,23,0,11,0],[25,40,20,0,15,0],[20,47,5,0,28,0]]),
    ("Vietnam_Lahu", [[27,33,31,0,6,3],[28,33,30,0,5,4],[26,37,27,0,8,2]]),
    ("HaNhi", [[24,27,40,0,5,4],[28,25,38,0,5,4],[27,27,37,0,7,2]]),
    ("Sila", [[12,38,44,0,5,1],[15,36,43,0,5,1],[18,33,44,0,4,1]]),
]
q_han = [
    ("Miao", [[41,4,22,4,22,7],[39,6,24,3,20,8]]),
    ("Han_Guangdong", [[52,5,15,11,8,9],[48,6,18,12,7,9]]),
    ("Han_Fujian", [[46,0,23,11,9,11]]),
    ("She", [[48,0,20,7,17,8],[46,0,21,9,15,9]]),
    ("Chuanyun", [[33,0,32,26,2,7]]),
    ("Korean", [[30,0,32,6,0,32],[28,0,34,5,0,33]]),
    ("Han_Shanxi", [[30,0,40,7,4,19],[25,0,45,6,5,19]]),
    ("Han_NChina", [[33,0,38,4,4,21],[31,2,38,5,4,20]]),
    ("Han_Shandong", [[33,0,36,6,4,21],[30,0,38,7,4,21]]),
    ("Han_Zhejiang", [[42,0,33,8,4,13]]),
    ("Han_Sichuan", [[37,4,32,7,7,13],[41,2,30,8,6,13]]),
    ("Han_Chongqing", [[38,5,32,8,8,9]]),
    ("Tu_HGDPjia", [[38,2,30,7,11,12],[40,3,27,8,10,12]]),
    ("Upper_YR_IA", [[22,0,60,0,2,16]]),
    ("Han_Jiangsu", [[38,0,36,4,5,17],[36,0,37,5,5,17]]),
    ("Han_Shanghai", [[42,0,29,7,5,17]]),
]
structure = q_north + q_se + q_kadai + q_tibetan + q_han

# layout of panel B, image rows
block_top = [71,183,215,264,313,366,403,444,577,619,656,681,741,766,823,882,943,988,1040,1096,1118,1139,1308,1408,1468,1529,1595,1612,1672,1728,1777,1830,1890,1962,1991,2051,2111,2192,2272,2358,2419,2473,2524,2576,2636,2698,2745,2790,2840,2892,2927,2954,3001,3031,3091,3129,3174,3233,3293,3354,3414,3467,3508,3541,3593,3610,3646,3691,3743,3796,3828,3870,3894,3947,3975,4018]
block_bot = [176,198,257,306,350,396,437,564,591,650,674,734,759,816,875,936,980,1033,1087,1111,1131,1301,1401,1461,1522,1584,1605,1665,1721,1771,1823,1882,1954,1984,2043,2105,2184,2264,2350,2412,2466,2517,2569,2630,2690,2734,2783,2833,2886,2921,2947,2991,3024,3084,3114,3167,3226,3286,3347,3407,3460,3501,3533,3586,3603,3639,3684,3736,3789,3822,3863,3887,3940,3968,4011,4030]
label_y = [119,186,231,280,327,378,418,499,572,628,659,698,740,784,842,900,954,1003,1057,1095,1125,1210,1343,1427,1487,1548,1591,1632,1686,1739,1789,1849,1914,1963,2007,2081,2137,2216,2300,2375,2433,2484,2536,2594,2655,2703,2755,2803,2850,2897,2928,2962,3001,3049,3093,3138,3190,3251,3313,3373,3430,3474,3510,3556,3587,3617,3656,3706,3755,3798,3837,3867,3905,3947,3982,4014]

W, H = 4550, 4044
PX = 72 / 100.0   # pt per px at dpi 100
fig = plt.figure(figsize=(W / 100, H / 100), dpi=100)


def seg(a, b):
    return Path([a, b], [Path.MOVETO, Path.LINETO])


def poly(pts):
    return Path(list(pts) + [pts[0]], [Path.MOVETO] + [Path.LINETO] * (len(pts) - 1) + [Path.CLOSEPOLY])


def join(*parts):
    return Path.make_compound_path(*parts)


circle = Path.unit_circle()
tri = poly([(-1.35, -.85), (1.35, -.85), (0, 1.45)])
tri_d = poly([(-1.35, .85), (1.35, .85), (0, -1.45)])
plus = join(seg((-1.4, 0), (1.4, 0)), seg((0, -1.4), (0, 1.4)))
cross = join(seg((-1, -1), (1, 1)), seg((-1, 1), (1, -1)))
diamond = poly([(-1.4, 0), (0, 1.4), (1.4, 0), (0, -1.4)])
square = poly([(-1, -1), (1, -1), (1, 1), (-1, 1)])
inner_plus = join(seg((-1, 0), (1, 0)), seg((0, -1), (0, 1)))
marks = [
    (circle, False), (tri, False), (plus, False), (cross, False), (diamond, False), (tri_d, False),
    (join(square, cross), False), (join(plus, cross), False),
    (join(diamond, seg((-1.4, 0), (1.4, 0)), seg((0, -1.4), (0, 1.4))), False),
    (join(circle, inner_plus), False),
    (join(tri, tri_d), False),
    (join(square, inner_plus), False),
    (join(square, cross), False),
    (join(square, poly([(-1, -1), (1, -1), (0, 1)])), False),
    (poly([(-.9, -.9), (.9, -.9), (.9, .9), (-.9, .9)]), True),
    (Path(circle.vertices * .85, circle.codes), True),
    (poly([(-1.05, -.7), (1.05, -.7), (0, 1.2)]), True),
    (poly([(-.72, 0), (0, .85), (.72, 0), (0, -.85)]), True),
    (Path(circle.vertices * 1.08, circle.codes), True),
]


def put(ax, x, y, mark, color, unit, lw):
    path, filled = marks[mark]
    ms = 2 * np.abs(path.vertices).max() * unit
    ax.plot(x, y, ls="none", marker=path, ms=ms, mew=0 if filled else lw, mec=color,
            mfc=color if filled else "none", clip_on=False)


# ---------- panel A
L, R, T, B = 383, 3244, 78, 2226
ax = fig.add_axes([L / W, 1 - B / H, (R - L) / W, (B - T) / H])
ax.set_xlim((L - 1592) / 18800, (R - 1592) / 18800)
ax.set_ylim((1001 - B) / 11140, (1001 - T) / 11140)
for name, color, members in families[1:] + families[:1]:
    for i, m in enumerate(members):
        p = pca.get(m, [])
        if p:
            put(ax, [q[0] for q in p], [q[1] for q in p], i, color, 17 * PX, 5)

for s in ax.spines.values():
    s.set_linewidth(5 * PX)
ax.set_xticks([-.06, -.04, -.02, 0, .02, .04, .06, .08])
ax.set_xticklabels(["\u22120.06", "\u2212 0.04", "\u22120.02", "0.00", "0.02", "0.04", "0.06", "0.08"])
ax.set_yticks([.05, 0, -.05, -.10])
ax.set_yticklabels(["0.05", "0.00", "\u22120.05", "\u22120.10"], rotation=90, va="center")
ax.tick_params(axis="x", length=54 * PX, width=4.5 * PX, labelsize=52, pad=39 * PX)
ax.tick_params(axis="y", length=54 * PX, width=4.5 * PX, labelsize=52, pad=33 * PX)

# ---------- panel B
unit_b = 2.49
ax_b = fig.add_axes([3600 / W, 0, 320 / W, 1])
ax_b.set_xlim(-53 / unit_b, 267 / unit_b)
ax_b.set_ylim(H, 0)
ax_b.axis("off")
for (pop, rows), top, bot in zip(structure, block_top, block_bot):
    h = (bot - top) / len(rows)
    for j, row in enumerate(rows):
        yc = top + (j + .5) * h
        shift = np.interp(yc, [70, 620, 2690, 3130, 4030], [0, -7, -7, -12, -12]) / unit_b
        left = shift
        for share, col in zip(row, k_colors):
            if share > 0:
                ax_b.barh(yc, share, left=left, height=h + .6, color=col, linewidth=0)
            left += share

# ---------- texts, legend
ov = fig.add_axes([0, 0, 1, 1], facecolor="none")
ov.set_xlim(0, W)
ov.set_ylim(H, 0)
ov.axis("off")
ov.text(7, 70, "A", fontsize=56, fontweight="bold", va="baseline")
ov.text(3505, 70, "B", fontsize=56, fontweight="bold", va="baseline")
ov.text(3686, 33, "K=6", fontsize=40, va="center")
for (pop, rows), y in zip(structure, label_y):
    ov.text(3925, y, pop, fontsize=27 if pop == "Tay" else 32.5, va="center")
ov.plot([3938], [1914], ls="none", marker=">", ms=28, mfc="none", mec="#ee0000", mew=4.5)

ov.add_patch(Rectangle((82, 2659), 3315, 1155, fill=False, ec="black", lw=5 * PX))
col_marker = [111, 452, 878, 1277, 1648, 2226, 2795]
col_text = [139, 483, 909, 1307, 1676, 2256, 2824]
entries = []
for name, color, members in families:
    entries.append((name, None, None))
    for i, m in enumerate(members):
        entries.append((m, color, i))
for k, (label, color, mark) in enumerate(entries):
    c, r = k // 20, k % 20
    y = 2714 + r * 55.05
    if color is None:
        ov.text(col_text[c], y, label, fontsize=30, fontweight="bold", va="center")
    else:
        ov.text(col_text[c], y, label, fontsize=30, va="center")
        put(ov, [col_marker[c]], [y - 2], mark, color, 15 * PX, 4)

fig.savefig("out.png", dpi=100, facecolor="white")
